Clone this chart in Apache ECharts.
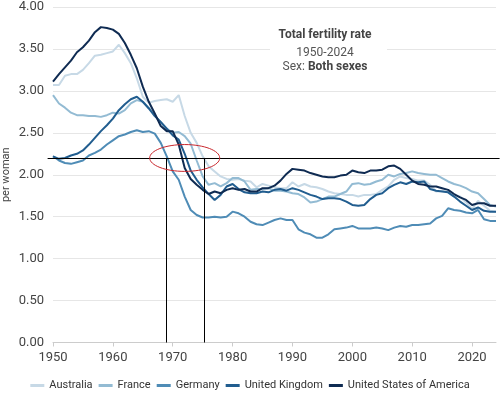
<!DOCTYPE html>
<html><head><meta charset="utf-8">
<script src="https://cdn.jsdelivr.net/npm/echarts@6/dist/echarts.min.js"></script>
<style>html,body{margin:0;padding:0;background:#fff}#c{width:500px;height:394px}</style>
</head><body><div id="c"></div>
<script>
const years = [1950,1951,1952,1953,1954,1955,1956,1957,1958,1959,
  1960,1961,1962,1963,1964,1965,1966,1967,1968,1969,
  1970,1971,1972,1973,1974,1975,1976,1977,1978,1979,
  1980,1981,1982,1983,1984,1985,1986,1987,1988,1989,
  1990,1991,1992,1993,1994,1995,1996,1997,1998,1999,
  2000,2001,2002,2003,2004,2005,2006,2007,2008,2009,
  2010,2011,2012,2013,2014,2015,2016,2017,2018,2019,
  2020,2021,2022,2023,2024];
const seriesNames = ['Australia','France','Germany','United Kingdom','United States of America'];
const australia = [3.07,3.07,3.18,3.20,3.20,3.25,3.33,3.42,3.43,3.45,
  3.47,3.55,3.45,3.33,3.15,2.93,2.86,2.88,2.89,2.90,
  2.87,2.95,2.70,2.50,2.38,2.22,2.10,2.04,1.98,1.95,
  1.94,1.95,1.93,1.92,1.85,1.89,1.87,1.85,1.84,1.84,
  1.91,1.86,1.89,1.86,1.85,1.83,1.80,1.78,1.77,1.76,
  1.76,1.74,1.76,1.76,1.77,1.82,1.86,1.94,1.98,1.96,
  1.95,1.93,1.93,1.88,1.80,1.81,1.79,1.74,1.74,1.67,
  1.59,1.69,1.63,1.57,1.56];
const france = [2.95,2.85,2.80,2.74,2.71,2.71,2.70,2.70,2.69,2.71,
  2.74,2.73,2.77,2.85,2.89,2.87,2.80,2.71,2.62,2.55,
  2.50,2.51,2.46,2.37,2.17,1.98,1.88,1.90,1.86,1.90,
  1.96,1.96,1.92,1.82,1.83,1.83,1.84,1.81,1.81,1.80,
  1.78,1.77,1.73,1.67,1.68,1.71,1.74,1.74,1.77,1.80,
  1.89,1.90,1.88,1.89,1.92,1.94,2.00,1.98,2.01,2.02,
  2.04,2.02,2.01,2.00,2.00,1.96,1.92,1.89,1.87,1.84,
  1.80,1.78,1.71,1.64,1.62];
const germany = [2.22,2.17,2.14,2.13,2.15,2.17,2.23,2.26,2.30,2.36,
  2.41,2.46,2.48,2.51,2.53,2.51,2.52,2.49,2.38,2.22,
  2.04,1.94,1.74,1.58,1.52,1.49,1.49,1.50,1.49,1.50,
  1.56,1.54,1.50,1.44,1.41,1.40,1.43,1.46,1.48,1.46,
  1.46,1.35,1.31,1.29,1.25,1.25,1.29,1.35,1.36,1.37,
  1.39,1.36,1.36,1.36,1.37,1.36,1.34,1.37,1.39,1.38,
  1.40,1.40,1.41,1.42,1.48,1.51,1.60,1.58,1.57,1.55,
  1.54,1.58,1.47,1.45,1.45];
const unitedKingdom = [2.22,2.19,2.20,2.23,2.25,2.29,2.36,2.44,2.52,2.59,
  2.67,2.77,2.84,2.90,2.93,2.87,2.79,2.70,2.63,2.55,
  2.47,2.42,2.25,2.05,1.94,1.85,1.77,1.70,1.76,1.86,
  1.89,1.83,1.79,1.78,1.78,1.80,1.79,1.82,1.83,1.81,
  1.84,1.82,1.79,1.76,1.74,1.71,1.72,1.72,1.71,1.68,
  1.64,1.63,1.64,1.71,1.76,1.78,1.84,1.88,1.91,1.89,
  1.92,1.91,1.92,1.83,1.81,1.80,1.79,1.74,1.68,1.63,
  1.58,1.61,1.57,1.56,1.56];
const unitedStates = [3.11,3.20,3.28,3.36,3.46,3.52,3.60,3.70,3.76,3.75,
  3.73,3.68,3.57,3.43,3.27,3.05,2.87,2.73,2.58,2.52,
  2.52,2.36,2.08,1.95,1.88,1.82,1.77,1.80,1.78,1.82,
  1.84,1.82,1.83,1.80,1.80,1.84,1.84,1.87,1.93,2.01,
  2.07,2.06,2.05,2.02,2.00,1.98,1.97,1.97,1.99,2.00,
  2.05,2.03,2.02,2.05,2.05,2.06,2.10,2.11,2.07,2.00,
  1.93,1.89,1.88,1.86,1.86,1.84,1.82,1.77,1.73,1.70,
  1.64,1.66,1.66,1.63,1.63];
const xTickLabels = [1950,1960,1970,1980,1990,2000,2010,2020];
const yMin = 0, yMax = 4, yStep = 0.5;
const yAxisTitle = 'per woman';
const referenceLevel = 2.2;
const markerYears = [1968.8, 1975.2];
const hLineYears = [1949.1, 2024.6];
const ellipseCenter = [1972.0, 2.2];
const ellipseHalf = [5.85, 0.16];

const colors = ['#c7d9e6','#93bbd3','#4f8cb6','#215d8f','#0f2b52'];
const valueSets = [australia, france, germany, unitedKingdom, unitedStates];
const FONT = 'Roboto, "Open Sans", sans-serif';

const chart = echarts.init(document.getElementById('c'), null, {renderer:'canvas'});
const series = seriesNames.map((n, i) => ({
  name: n, type: 'line', symbol: 'none', showSymbol: false,
  data: years.map((y, k) => [y, valueSets[i][k]]),
  lineStyle: {width: 2, color: colors[i]}, itemStyle: {color: colors[i]},
  emphasis: {disabled: true}, z: 2 + i
}));
chart.setOption({
  animation: false,
  textStyle: {fontFamily: FONT},
  grid: {left: 53, right: 4, top: 7, bottom: 51.5, containLabel: false, outerBoundsMode: 'none'},
  xAxis: {
    type: 'value', min: years[0], max: years[years.length - 1], interval: 10,
    axisLine: {show: true, lineStyle: {color: '#cccccc', width: 1}},
    axisTick: {show: true, length: 4, lineStyle: {color: '#cccccc'}, customValues: xTickLabels},
    axisLabel: {color: '#444', fontSize: 13, margin: 9, fontFamily: FONT, customValues: xTickLabels, formatter: v => String(v)},
    splitLine: {show: false}
  },
  yAxis: {
    type: 'value', min: yMin, max: yMax, interval: yStep,
    axisLine: {show: false}, axisTick: {show: false},
    axisLabel: {color: '#444', fontSize: 13, margin: 9, fontFamily: FONT, formatter: v => v.toFixed(2)},
    splitLine: {lineStyle: {color: '#e6e6e6', width: 1}}
  },
  legend: {
    data: seriesNames, top: 375, left: 'center', icon: 'rect',
    itemWidth: 14, itemHeight: 3, itemGap: 6,
    textStyle: {color: '#333', fontSize: 11, fontFamily: FONT}
  },
  series: series
});

const px = (x, y) => chart.convertToPixel({gridIndex: 0}, [x, y]);
const hA = px(hLineYears[0], referenceLevel), hB = px(hLineYears[1], referenceLevel);
const mid = px(years[0], (yMin + yMax) / 2);
const els = [
  {type: 'rect', shape: {x: 270, y: 26, width: 117, height: 50}, style: {fill: '#fff'}, z: 1},
  {type: 'text', x: 325, y: 35, z: 2, style: {text: 'Total fertility rate', textAlign: 'center', textVerticalAlign: 'middle', fontSize: 12, fontWeight: 'bold', fill: '#444', fontFamily: FONT}},
  {type: 'text', x: 325, y: 53, z: 2, style: {text: '1950-2024', textAlign: 'center', textVerticalAlign: 'middle', fontSize: 12, fill: '#555', fontFamily: FONT}},
  {type: 'text', x: 325, y: 67, z: 2, style: {text: '{a|Sex: }{b|Both sexes}', textAlign: 'center', textVerticalAlign: 'middle', fontFamily: FONT,
    rich: {a: {fontSize: 12, fill: '#555', fontFamily: FONT}, b: {fontSize: 12, fontWeight: 'bold', fill: '#444', fontFamily: FONT}}}},
  {type: 'text', x: 6, y: mid[1], rotation: Math.PI / 2, z: 2, style: {text: yAxisTitle, textAlign: 'center', textVerticalAlign: 'middle', fontSize: 11, fill: '#444', fontFamily: FONT}},
  {type: 'line', z: 100, shape: {x1: hA[0], y1: Math.round(hA[1]) + 0.5, x2: hB[0], y2: Math.round(hB[1]) + 0.5}, style: {stroke: '#000', lineWidth: 1}}
];
markerYears.forEach(yr => {
  const a = px(yr, referenceLevel), b = px(yr, yMin);
  const xx = Math.round(a[0]) + 0.5;
  els.push({type: 'line', z: 100, shape: {x1: xx, y1: a[1], x2: xx, y2: b[1]}, style: {stroke: '#000', lineWidth: 1}});
});
const c = px(ellipseCenter[0], ellipseCenter[1]);
const e = px(ellipseCenter[0] + ellipseHalf[0], ellipseCenter[1] + ellipseHalf[1]);
els.push({type: 'ellipse', z: 101, shape: {cx: c[0], cy: c[1], rx: Math.abs(e[0] - c[0]), ry: Math.abs(e[1] - c[1])},
  style: {fill: 'none', stroke: '#c8262c', lineWidth: 1}});
chart.setOption({graphic: {elements: els}});
</script></body></html>
